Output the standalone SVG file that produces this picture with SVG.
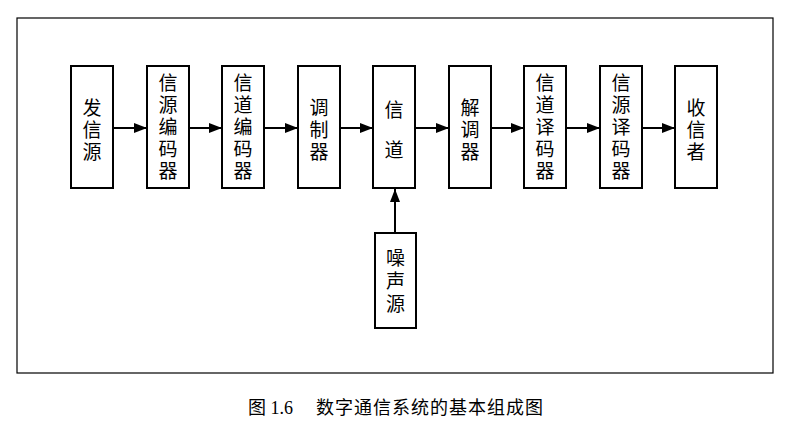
<svg xmlns="http://www.w3.org/2000/svg" width="789" height="422" viewBox="0 0 789 422">
<style>
.b{fill:#fff;stroke:#000;stroke-width:2}
.t{font-family:"Liberation Serif","Noto Sans CJK SC",serif;font-size:19px;text-anchor:middle;dominant-baseline:central;fill:#000}
.c{stroke:#000;stroke-width:2;fill:none;marker-end:url(#a)}
.cap{font-family:"Liberation Serif","Noto Sans CJK SC",serif;font-size:18px;fill:#000}
</style>
<defs><marker id="a" markerWidth="13" markerHeight="10" refX="13" refY="5" orient="auto" markerUnits="userSpaceOnUse"><path d="M0,0 L13,5 L0,10 Z" fill="#000"/></marker></defs>
<rect x="17" y="18" width="756" height="355" fill="none" stroke="#000" stroke-width="1.2"/>
<g id="n1"><rect class="b" x="71" y="66" width="42" height="122"/><text class="t" x="92" y="108">发</text><text class="t" x="92" y="130">信</text><text class="t" x="92" y="152">源</text></g>
<g id="n2"><rect class="b" x="147" y="66" width="42" height="122"/><text class="t" x="168" y="83">信</text><text class="t" x="168" y="105">源</text><text class="t" x="168" y="127">编</text><text class="t" x="168" y="149">码</text><text class="t" x="168" y="171">器</text></g>
<g id="n3"><rect class="b" x="222" y="66" width="42" height="122"/><text class="t" x="243" y="83">信</text><text class="t" x="243" y="105">道</text><text class="t" x="243" y="127">编</text><text class="t" x="243" y="149">码</text><text class="t" x="243" y="171">器</text></g>
<g id="n4"><rect class="b" x="298" y="66" width="42" height="122"/><text class="t" x="319" y="108">调</text><text class="t" x="319" y="130">制</text><text class="t" x="319" y="152">器</text></g>
<g id="n5"><rect class="b" x="373" y="66" width="42" height="122"/><text class="t" x="394" y="110">信</text><text class="t" x="394" y="150">道</text></g>
<g id="n6"><rect class="b" x="449" y="66" width="42" height="122"/><text class="t" x="470" y="108">解</text><text class="t" x="470" y="130">调</text><text class="t" x="470" y="152">器</text></g>
<g id="n7"><rect class="b" x="524" y="66" width="42" height="122"/><text class="t" x="545" y="83">信</text><text class="t" x="545" y="105">道</text><text class="t" x="545" y="127">译</text><text class="t" x="545" y="149">码</text><text class="t" x="545" y="171">器</text></g>
<g id="n8"><rect class="b" x="600" y="66" width="42" height="122"/><text class="t" x="621" y="83">信</text><text class="t" x="621" y="105">源</text><text class="t" x="621" y="127">译</text><text class="t" x="621" y="149">码</text><text class="t" x="621" y="171">器</text></g>
<g id="n9"><rect class="b" x="675" y="66" width="42" height="122"/><text class="t" x="696" y="108">收</text><text class="t" x="696" y="130">信</text><text class="t" x="696" y="152">者</text></g>
<g id="noise"><rect class="b" x="375" y="233" width="41" height="95"/><text class="t" x="395.5" y="258">噪</text><text class="t" x="395.5" y="281">声</text><text class="t" x="395.5" y="304">源</text></g>
<g id="connectors">
<line class="c" x1="113" y1="128" x2="147" y2="128"/>
<line class="c" x1="189" y1="128" x2="222" y2="128"/>
<line class="c" x1="264" y1="128" x2="298" y2="128"/>
<line class="c" x1="340" y1="128" x2="373" y2="128"/>
<line class="c" x1="415" y1="128" x2="449" y2="128"/>
<line class="c" x1="491" y1="128" x2="524" y2="128"/>
<line class="c" x1="566" y1="128" x2="600" y2="128"/>
<line class="c" x1="642" y1="128" x2="675" y2="128"/>
<line class="c" x1="395" y1="233" x2="395" y2="189"/>
</g>
<text class="cap" x="248" y="414">图 1.6</text>
<text class="cap" x="316" y="414" textLength="227" lengthAdjust="spacing">数字通信系统的基本组成图</text>
</svg>
